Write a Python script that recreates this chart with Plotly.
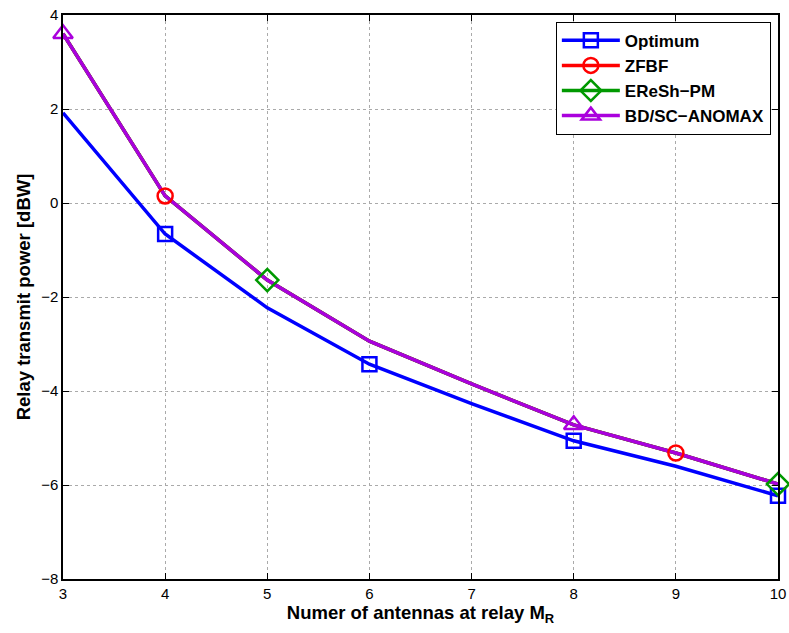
import plotly.graph_objects as go

x_vals = [3, 4, 5, 6, 7, 8, 9, 10]
optimum = [1.92, -0.66, -2.23, -3.43, -4.27, -5.06, -5.60, -6.23]
zfbf = [3.60, 0.15, -1.64, -2.94, -3.85, -4.72, -5.32, -5.98]
eresh = [3.60, 0.15, -1.64, -2.94, -3.85, -4.72, -5.32, -5.98]
bdsc = [3.60, 0.15, -1.64, -2.94, -3.85, -4.72, -5.32, -5.98]

names = ["Optimum", "ZFBF", "EReSh\u2212PM", "BD/SC\u2212ANOMAX"]
colors = ["#0000ff", "#ff0000", "#009900", "#aa00dd"]
symbols = ["square-open", "circle-open", "diamond-open", "triangle-up-open"]
sizes = [14, 15, 17, 17]
marker_x = [[4, 6, 8, 10], [4, 9], [5, 10], [3, 8]]
series = [optimum, zfbf, eresh, bdsc]

FONT = "Liberation Sans, Arial, sans-serif"

fig = go.Figure()
for name, col, ys in zip(names, colors, series):
    fig.add_trace(go.Scatter(x=x_vals, y=ys, mode="lines",
                             line=dict(color=col, width=3.5), showlegend=False, hoverinfo="skip",
                             cliponaxis=False))
for name, col, sym, sz, mx, ys in zip(names, colors, symbols, sizes, marker_x, series):
    my = [ys[x_vals.index(v)] for v in mx]
    fig.add_trace(go.Scatter(x=mx, y=my, mode="markers", cliponaxis=False,
                             marker=dict(symbol=sym, size=sz, color=col, line=dict(color=col, width=2.5)),
                             showlegend=False))
for name, col, sym, sz, mx, ys in zip(names, colors, symbols, sizes, marker_x, series):
    fig.add_trace(go.Scatter(x=[None], y=[None], mode="lines+markers", name=name,
                             line=dict(color=col, width=3.5),
                             marker=dict(symbol=sym, size=sz, color=col, line=dict(color=col, width=2.5))))

axis_common = dict(showline=True, linecolor="black", linewidth=1.5, mirror="ticks",
                   ticks="inside", ticklen=6, tickcolor="black", automargin=False,
                   showgrid=True, gridcolor="#aaaaaa", griddash="dot", gridwidth=1,
                   zeroline=False, tickfont=dict(family=FONT, size=15, color="black"))

fig.update_layout(
    width=789, height=633,
    margin=dict(l=63, r=11, t=15, b=54),
    paper_bgcolor="white", plot_bgcolor="white",
    xaxis=dict(range=[3, 10], dtick=1, tick0=3,
               title=dict(text="<b>Numer of antennas at relay M<sub>R</sub></b>",
                          font=dict(family=FONT, size=18.5, color="black"), standoff=2),
               **axis_common),
    yaxis=dict(range=[-8, 4], dtick=2,
               title=dict(text="<b>Relay transmit power [dBW]</b>",
                          font=dict(family=FONT, size=18.5, color="black"), standoff=6),
               **axis_common),
    legend=dict(x=0.99, y=0.988, xanchor="right", yanchor="top",
                bgcolor="white", bordercolor="black", borderwidth=1,
                font=dict(family=FONT, size=17, color="black", weight="bold"),
                tracegroupgap=0, itemwidth=58),
)

fig.write_html("out.html", config={"displayModeBar": False},
               post_script="document.body.style.margin='0';")
